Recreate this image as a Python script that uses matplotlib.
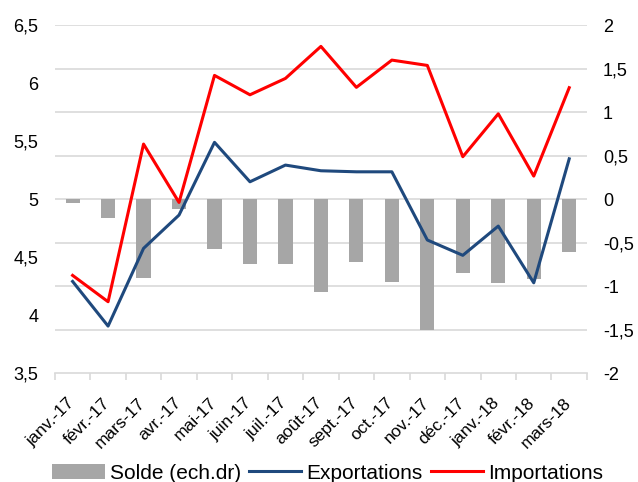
import matplotlib
matplotlib.use("Agg")
import matplotlib.pyplot as plt
import matplotlib.transforms as mtransforms
from matplotlib.ticker import FuncFormatter, FixedLocator
import numpy as np

plt.rcParams['font.family'] = ['Liberation Sans', 'DejaVu Sans']

categories = ["janv.-17", "févr.-17", "mars-17", "avr.-17", "mai-17", "juin-17",
              "juil.-17", "août-17", "sept.-17", "oct.-17", "nov.-17", "déc.-17",
              "janv.-18", "févr.-18", "mars-18"]
exportations = [4.29, 3.905, 4.575, 4.862, 5.489, 5.149, 5.293, 5.244, 5.235, 5.235,
                4.647, 4.515, 4.767, 4.278, 5.347]
importations = [4.342, 4.115, 5.474, 4.971, 6.066, 5.899, 6.04, 6.316, 5.963, 6.198,
                6.152, 5.365, 5.735, 5.198, 5.960]
solde = [-0.05, -0.215, -0.91, -0.11, -0.575, -0.747, -0.747, -1.069, -0.72, -0.954,
         -1.506, -0.847, -0.969, -0.916, -0.606]

fig = plt.figure(figsize=(6.38, 4.82), dpi=100)
ax = fig.add_axes([0.086, 0.226, 0.834, 0.722])
ax2 = ax.twinx()

x = np.arange(len(categories))

ax2.bar(x, solde, width=0.4, color='#a6a6a6', zorder=1, label='Solde (ech.dr)')
ax2.set_ylim(-2, 2)
ax2.set_yticks(np.arange(-2, 2.01, 0.5))

ax.set_zorder(ax2.get_zorder() + 1)
ax.patch.set_visible(False)

l1, = ax.plot(x, exportations, color='#1f497d', lw=2.2, label='Exportations', zorder=3)
l2, = ax.plot(x, importations, color='#ff0000', lw=2.2, label='Importations', zorder=3)
ax.set_ylim(3.5, 6.5)
ax.set_yticks(np.arange(3.5, 6.51, 0.5))
ax.set_xlim(-0.5, len(categories) - 0.5)

fmt = FuncFormatter(lambda v, p: ('%g' % round(v, 2)).replace('.', ','))
ax.yaxis.set_major_formatter(fmt)
ax2.yaxis.set_major_formatter(fmt)

for yv in np.arange(-1.5, 2.01, 0.5):
    ax2.axhline(yv, color='#d9d9d9', lw=1.2, zorder=0)

for a in (ax, ax2):
    for s in a.spines.values():
        s.set_visible(False)
ax.spines['bottom'].set_visible(True)
ax.spines['bottom'].set_color('#d9d9d9')
ax.spines['bottom'].set_linewidth(1.2)

ax.set_xticks(x)
ax.set_xticklabels(categories, rotation=45, ha='right', rotation_mode='anchor', fontsize=12.5)
ax.tick_params(axis='x', which='major', length=0, pad=16)
offset = mtransforms.ScaledTranslation(-6 / 100, 0, fig.dpi_scale_trans)
for lab in ax.get_xticklabels():
    lab.set_transform(lab.get_transform() + offset)
ax.xaxis.set_minor_locator(FixedLocator(np.arange(-0.5, len(categories), 1.0)))
ax.tick_params(axis='x', which='minor', length=5, color='#d9d9d9', width=1.2)
ax.tick_params(axis='y', length=0, labelsize=13, pad=12)
ax2.tick_params(axis='y', length=0, labelsize=13, pad=11.5)
ax2.tick_params(axis='x', length=0)

handles = [ax2.patches[0], l1, l2]
leg = fig.legend(handles, ['Solde (ech.dr)', 'Exportations', 'Importations'],
                 loc='lower center', bbox_to_anchor=(0.514, -0.04), ncol=3, frameon=False,
                 fontsize=15, handlelength=2.5, handletextpad=0.25, columnspacing=0.4)

fig.savefig('out.png', dpi=100)
